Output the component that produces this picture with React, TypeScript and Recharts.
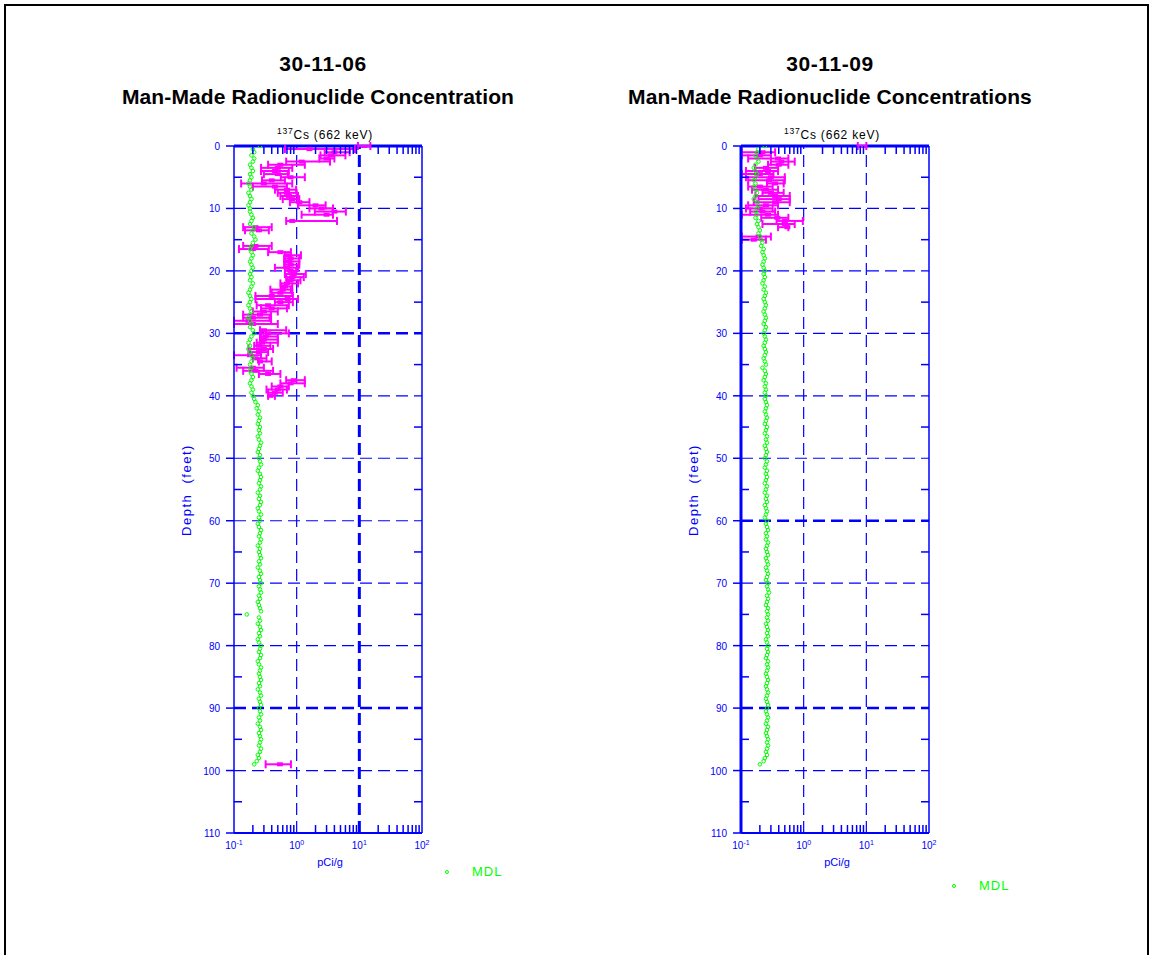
import { ScatterChart, Scatter, XAxis, YAxis, ErrorBar, ReferenceLine } from "recharts";

const BLUE = "#0000ff";
const MAGENTA = "#ff00ff";
const GREEN = "#00ff00";
const FONT = "'Liberation Sans', Arial, sans-serif";

// plot area size (px), shared by both panels
const PLOT_W = 188;
const PLOT_H = 687;

const depthTicks = [0, 5, 10, 15, 20, 25, 30, 35, 40, 45, 50, 55, 60, 65, 70, 75, 80, 85, 90, 95, 100, 105, 110];
const majorDepths = [10, 20, 30, 40, 50, 60, 70, 80, 90, 100];
const concTicks = [
  0.1, 0.2, 0.3, 0.4, 0.5, 0.6, 0.7, 0.8, 0.9,
  1, 2, 3, 4, 5, 6, 7, 8, 9,
  10, 20, 30, 40, 50, 60, 70, 80, 90, 100,
];

// ---- 2006 log: Cs-137 (pCi/g) ----
const depth06 = [
  0, 0.5, 1, 1.5, 2, 2.5, 3, 3.5, 4, 4.5, 5, 5.5, 6, 6.5, 7, 7.5, 8, 8.5, 9, 9.5,
  10, 10.5, 11, 12, 13, 13.5, 16, 16.5, 17, 17.5, 18, 18.5, 19, 19.5, 20, 20.5, 21,
  21.5, 22, 22.5, 23, 23.5, 24, 24.5, 25, 25.5, 26, 26.5, 27, 27.5, 28, 28.5, 29.5,
  30, 30.5, 31, 31.5, 32, 32.5, 33, 33.5, 34, 34.5, 35.5, 36, 36.5, 37.5, 38, 38.5,
  39, 39.5, 40, 99,
];
const cs06 = [
  12, 1.6, 4.0, 3.5, 3.0, 1.2, 0.55, 0.5, 0.45, 0.5, 0.8, 0.4, 0.3, 0.45, 0.7, 0.7, 0.75, 0.85, 1.1, 2.0,
  2.5, 4.0, 3.0, 0.85, 0.22, 0.25, 0.22, 0.2, 0.55, 0.75, 0.8, 0.75, 0.8, 0.7, 0.8, 0.9, 0.85,
  0.8, 0.7, 0.65, 0.6, 0.55, 0.4, 0.72, 0.55, 0.35, 0.4, 0.3, 0.26, 0.2, 0.17, 0.2, 0.3,
  0.35, 0.32, 0.3, 0.28, 0.25, 0.3, 0.25, 0.18, 0.22, 0.26, 0.2, 0.22, 0.35, 0.9, 0.8, 0.55,
  0.5, 0.45, 0.38, 0.54,
];
const lo06 = [
  9.5, 0.65, 2.8, 2.4, 2.3, 0.68, 0.35, 0.27, 0.27, 0.3, 0.56, 0.28, 0.13, 0.2, 0.45, 0.5, 0.55, 0.6, 0.78, 1.05,
  1.6, 1.95, 1.2, 0.68, 0.14, 0.15, 0.14, 0.12, 0.35, 0.65, 0.63, 0.65, 0.63, 0.45, 0.65, 0.65, 0.68,
  0.7, 0.55, 0.56, 0.38, 0.4, 0.22, 0.22, 0.45, 0.23, 0.27, 0.2, 0.14, 0.14, 0.1, 0.1, 0.26,
  0.26, 0.27, 0.26, 0.23, 0.21, 0.17, 0.18, 0.1, 0.2, 0.25, 0.11, 0.14, 0.25, 0.68, 0.55, 0.4,
  0.33, 0.35, 0.35, 0.32,
];
const hi06 = [
  15, 8.5, 7.0, 6.0, 4.0, 3.4, 1.35, 0.85, 0.75, 0.72, 1.35, 0.65, 0.85, 0.7, 0.98, 1.0, 1.05, 1.1, 1.6, 2.9,
  3.8, 6.1, 3.8, 4.4, 0.4, 0.36, 0.4, 0.36, 0.81, 1.17, 1.1, 1.1, 1.1, 1.05, 0.98, 1.4, 1.3,
  1.15, 1.05, 0.85, 0.81, 0.85, 0.87, 1.05, 0.87, 0.75, 0.7, 0.5, 0.39, 0.37, 0.39, 0.5, 0.68,
  0.75, 0.5, 0.5, 0.5, 0.38, 0.42, 0.35, 0.27, 0.33, 0.4, 0.3, 0.42, 0.55, 1.35, 1.35, 0.75,
  0.7, 0.6, 0.45, 0.81,
];
// MDL every 0.5 ft from 0 to 99 ft
const mdl06 = [
  0.26, 0.20, 0.21, 0.19, 0.21, 0.20, 0.18, 0.19, 0.20, 0.18, 0.19,
  0.18, 0.17, 0.18, 0.19, 0.17, 0.18, 0.19, 0.18, 0.17, 0.18,
  0.18, 0.19, 0.20, 0.19, 0.18, 0.21, 0.20, 0.19, 0.21, 0.22,
  0.20, 0.19, 0.18, 0.19, 0.20, 0.19, 0.18, 0.19, 0.20, 0.19,
  0.18, 0.19, 0.18, 0.20, 0.19, 0.18, 0.17, 0.18, 0.19, 0.18,
  0.17, 0.18, 0.19, 0.18, 0.17, 0.18, 0.19, 0.18, 0.20, 0.21,
  0.19, 0.18, 0.17, 0.18, 0.17, 0.18, 0.19, 0.20, 0.19, 0.18,
  0.19, 0.18, 0.19, 0.20, 0.19, 0.18, 0.19, 0.20, 0.19, 0.20,
  0.21, 0.22, 0.24, 0.23, 0.25, 0.24, 0.26, 0.25, 0.24, 0.26,
  0.25, 0.26, 0.24, 0.25, 0.27, 0.26, 0.25, 0.24, 0.26, 0.25,
  0.26, 0.27, 0.25, 0.24, 0.26, 0.27, 0.26, 0.25, 0.27, 0.26,
  0.24, 0.26, 0.25, 0.27, 0.26, 0.24, 0.25, 0.27, 0.25, 0.26,
  0.24, 0.25, 0.27, 0.26, 0.25, 0.27, 0.26, 0.24, 0.26, 0.25,
  0.26, 0.27, 0.25, 0.26, 0.24, 0.26, 0.27, 0.25, 0.26, 0.27,
  0.25, 0.26, 0.27, 0.25, 0.26, 0.24, 0.25, 0.26, 0.27, 0.16,
  0.25, 0.26, 0.24, 0.26, 0.27, 0.25, 0.26, 0.24, 0.25, 0.27,
  0.26, 0.25, 0.27, 0.26, 0.24, 0.25, 0.27, 0.26, 0.25, 0.26,
  0.27, 0.25, 0.26, 0.24, 0.26, 0.27, 0.25, 0.26, 0.27, 0.25,
  0.26, 0.27, 0.25, 0.26, 0.24, 0.26, 0.27, 0.25, 0.26, 0.27,
  0.26, 0.25, 0.27, 0.26, 0.24, 0.25, 0.23, 0.21,
];

// ---- 2009 log ----
const depth09 = [
  0, 1, 1.5, 2, 2.5, 3, 3.5, 4, 4.5, 5, 5.5, 6, 6.5, 7, 7.5, 8, 8.5, 9, 9.5, 10,
  10.5, 11, 11.5, 12, 12.5, 13, 14.5, 15,
];
const cs09 = [
  8.5, 0.22, 0.2, 0.39, 0.44, 0.4, 0.25, 0.27, 0.2, 0.3, 0.28, 0.35, 0.2, 0.25, 0.3, 0.35, 0.4, 0.35, 0.25, 0.2,
  0.22, 0.27, 0.38, 0.5, 0.5, 0.55, 0.19, 0.16,
];
const lo09 = [
  7.3, 0.103, 0.103, 0.13, 0.3, 0.27, 0.167, 0.12, 0.103, 0.12, 0.13, 0.26, 0.13, 0.15, 0.22, 0.17, 0.19, 0.16, 0.13, 0.12,
  0.14, 0.103, 0.21, 0.37, 0.22, 0.39, 0.103, 0.103,
];
const hi09 = [
  10, 0.35, 0.3, 0.57, 0.72, 0.57, 0.39, 0.39, 0.33, 0.5, 0.5, 0.48, 0.32, 0.39, 0.48, 0.6, 0.6, 0.6, 0.39, 0.32,
  0.35, 0.39, 0.57, 0.97, 0.72, 0.57, 0.3, 0.25,
];
const mdl09 = [
  0.24, 0.19, 0.18, 0.17, 0.18, 0.19, 0.17, 0.16, 0.17, 0.18, 0.17,
  0.16, 0.17, 0.16, 0.17, 0.18, 0.17, 0.16, 0.18, 0.19, 0.18,
  0.17, 0.18, 0.17, 0.19, 0.18, 0.19, 0.20, 0.19, 0.20, 0.21,
  0.22, 0.21, 0.23, 0.22, 0.23, 0.24, 0.23, 0.22, 0.23, 0.24,
  0.23, 0.24, 0.23, 0.22, 0.24, 0.23, 0.25, 0.24, 0.23, 0.24,
  0.25, 0.24, 0.23, 0.24, 0.25, 0.24, 0.23, 0.25, 0.24, 0.23,
  0.24, 0.25, 0.24, 0.23, 0.24, 0.25, 0.24, 0.23, 0.24, 0.25,
  0.22, 0.24, 0.25, 0.24, 0.23, 0.25, 0.24, 0.25, 0.24, 0.25,
  0.24, 0.25, 0.26, 0.25, 0.24, 0.25, 0.26, 0.25, 0.24, 0.26,
  0.25, 0.24, 0.26, 0.25, 0.26, 0.24, 0.25, 0.26, 0.25, 0.24,
  0.26, 0.25, 0.24, 0.26, 0.25, 0.26, 0.25, 0.24, 0.26, 0.25,
  0.24, 0.26, 0.25, 0.26, 0.24, 0.25, 0.26, 0.25, 0.24, 0.26,
  0.25, 0.26, 0.27, 0.25, 0.26, 0.25, 0.27, 0.26, 0.25, 0.26,
  0.27, 0.25, 0.26, 0.27, 0.25, 0.26, 0.27, 0.26, 0.25, 0.27,
  0.26, 0.27, 0.28, 0.26, 0.27, 0.26, 0.25, 0.27, 0.26, 0.27,
  0.26, 0.27, 0.25, 0.26, 0.27, 0.26, 0.27, 0.25, 0.26, 0.27,
  0.26, 0.27, 0.26, 0.25, 0.27, 0.26, 0.27, 0.26, 0.25, 0.26,
  0.27, 0.26, 0.25, 0.26, 0.27, 0.26, 0.25, 0.26, 0.27, 0.26,
  0.25, 0.26, 0.27, 0.26, 0.25, 0.27, 0.26, 0.25, 0.26, 0.27,
  0.26, 0.27, 0.26, 0.25, 0.26, 0.24, 0.23, 0.20,
];

const buildCs = (depth: number[], cs: number[], lo: number[], hi: number[]) =>
  depth.map((d, i) => ({ x: cs[i], y: d, err: [cs[i] - lo[i], hi[i] - cs[i]] }));
const buildMdl = (mdl: number[]) => mdl.map((v, i) => ({ x: v, y: i * 0.5 }));

const XTick = (props: any) => {
  const { x, y, payload } = props;
  const v = payload.value as number;
  const lg = Math.log10(v);
  const exp = Math.round(lg);
  if (Math.abs(lg - exp) < 1e-6) {
    return (
      <text x={x} y={y + 16} textAnchor="middle" fill={BLUE} fontSize={10} fontFamily={FONT}>
        10<tspan dy={-4} fontSize={7}>{exp}</tspan>
      </text>
    );
  }
  return (
    <g stroke={BLUE} strokeWidth={1.5}>
      <line x1={x} x2={x} y1={y} y2={y - 8} />
      <line x1={x} x2={x} y1={y - PLOT_H} y2={y - PLOT_H + 8} />
    </g>
  );
};

const YTick = (props: any) => {
  const { x, y, payload } = props;
  const v = payload.value as number;
  if (v % 10 === 0) {
    return (
      <g>
        <line x1={x - 8} x2={x} y1={y} y2={y} stroke={BLUE} strokeWidth={1.5} />
        <text x={x - 14} y={y + 4} textAnchor="end" fill={BLUE} fontSize={10} fontFamily={FONT}>
          {v}
        </text>
      </g>
    );
  }
  return (
    <g stroke={BLUE} strokeWidth={1.5}>
      <line x1={x} x2={x + 8} y1={y} y2={y} />
      <line x1={x + PLOT_W - 8} x2={x + PLOT_W} y1={y} y2={y} />
    </g>
  );
};

const CsMark = (props: any) => {
  const { cx, cy } = props;
  return <rect x={cx - 3} y={cy - 2} width={6} height={4} fill={MAGENTA} />;
};

const MdlMark = (props: any) => {
  const { cx, cy } = props;
  return <circle cx={cx} cy={cy} r={1.8} fill="none" stroke={GREEN} strokeWidth={1} />;
};

type PanelProps = {
  left: number;
  date: string;
  title: string;
  titleShift: number;
  cs: { x: number; y: number; err: number[] }[];
  mdl: { x: number; y: number }[];
  thickDepths: number[];
  thickConc: number[];
  thickLeftAxis: boolean;
  legendTop: number;
};

function Panel({ left, date, title, titleShift, cs, mdl, thickDepths, thickConc, thickLeftAxis, legendTop }: PanelProps) {
  const plotLeft = left + 234;
  const cx = plotLeft + PLOT_W / 2;
  return (
    <>
      <div style={{ position: "absolute", left: cx - 200 - 5, top: 53, width: 400, textAlign: "center", fontFamily: FONT, fontWeight: "bold", fontSize: 21, lineHeight: "21px", letterSpacing: 0.6 }}>
        {date}
      </div>
      <div style={{ position: "absolute", left: cx - 300 + titleShift, top: 86, width: 600, textAlign: "center", fontFamily: FONT, fontWeight: "bold", fontSize: 21, lineHeight: "21px", letterSpacing: 0.1 }}>
        {title}
      </div>
      <div style={{ position: "absolute", left: cx - 100 - 3, top: 124, width: 200, textAlign: "center", fontFamily: FONT, fontSize: 12, lineHeight: "14px", letterSpacing: 0.8 }}>
        <sup style={{ fontSize: 8.5 }}>137</sup>Cs (662 keV)
      </div>
      <div style={{ position: "absolute", left: left + 187 - 60, top: 490 - 8, width: 120, height: 16, textAlign: "center", transform: "rotate(-90deg)", color: BLUE, fontFamily: FONT, fontSize: 13, lineHeight: "16px", letterSpacing: 1.5, whiteSpace: "pre" }}>
        {"Depth  (feet)"}
      </div>
      <div style={{ position: "absolute", left: cx - 50 + 2, top: 855, width: 100, textAlign: "center", color: BLUE, fontFamily: FONT, fontSize: 11, lineHeight: "14px" }}>
        pCi/g
      </div>
      <div style={{ position: "absolute", left: left + 444, top: legendTop - 8, display: "flex", alignItems: "center", color: GREEN, fontFamily: FONT, fontSize: 13, lineHeight: "16px", letterSpacing: 1 }}>
        <svg width={8} height={8}>
          <circle cx={3} cy={4} r={1.5} fill="none" stroke={GREEN} />
        </svg>
        <span style={{ marginLeft: 20 }}>MDL</span>
      </div>
      <div style={{ position: "absolute", left, top: 0 }}>
        <ScatterChart width={460} height={900} margin={{ top: 146, right: 38, bottom: 37, left: 204 }}>
          <XAxis
            type="number"
            dataKey="x"
            scale="log"
            domain={[0.1, 100]}
            allowDataOverflow
            ticks={concTicks}
            interval={0}
            tick={<XTick />}
            tickLine={false}
            tickSize={0}
            tickMargin={0}
            height={30}
            axisLine={{ stroke: BLUE, strokeWidth: 2 }}
          />
          <YAxis
            type="number"
            dataKey="y"
            reversed
            domain={[0, 110]}
            allowDataOverflow
            ticks={depthTicks}
            interval={0}
            tick={<YTick />}
            tickLine={false}
            tickSize={0}
            tickMargin={0}
            width={30}
            axisLine={{ stroke: BLUE, strokeWidth: thickLeftAxis ? 3 : 1.5 }}
          />
          {majorDepths.map((d) => (
            <ReferenceLine
              key={"d" + d}
              y={d}
              stroke={BLUE}
              strokeWidth={thickDepths.includes(d) ? 2.5 : 1.2}
              strokeDasharray="12 6"
            />
          ))}
          {[1, 10].map((c) => (
            <ReferenceLine
              key={"c" + c}
              x={c}
              stroke={BLUE}
              strokeWidth={thickConc.includes(c) ? 3 : 1.2}
              strokeDasharray="12 6"
            />
          ))}
          <ReferenceLine x={100} stroke={BLUE} strokeWidth={1.5} />
          <ReferenceLine y={0} stroke={BLUE} strokeWidth={3} />
          <Scatter data={cs} shape={<CsMark />} isAnimationActive={false}>
            <ErrorBar dataKey="err" direction="x" stroke={MAGENTA} strokeWidth={2} width={4} />
          </Scatter>
          <Scatter data={mdl} shape={<MdlMark />} isAnimationActive={false} />
        </ScatterChart>
      </div>
    </>
  );
}

export default function App() {
  return (
    <div style={{ position: "absolute", left: 0, top: 0, width: 1153, height: 955, background: "#fff", overflow: "hidden" }}>
      <div style={{ position: "absolute", left: 4, top: 4, width: 1141, height: 980, border: "2px solid #000" }} />
      <Panel
        left={0}
        date="30-11-06"
        title="Man-Made Radionuclide Concentration"
        titleShift={-10}
        cs={buildCs(depth06, cs06, lo06, hi06)}
        mdl={buildMdl(mdl06)}
        thickDepths={[30, 90]}
        thickConc={[10]}
        thickLeftAxis={false}
        legendTop={872}
      />
      <Panel
        left={507}
        date="30-11-09"
        title="Man-Made Radionuclide Concentrations"
        titleShift={-5}
        cs={buildCs(depth09, cs09, lo09, hi09)}
        mdl={buildMdl(mdl09)}
        thickDepths={[60, 90]}
        thickConc={[]}
        thickLeftAxis={true}
        legendTop={886}
      />
    </div>
  );
}
